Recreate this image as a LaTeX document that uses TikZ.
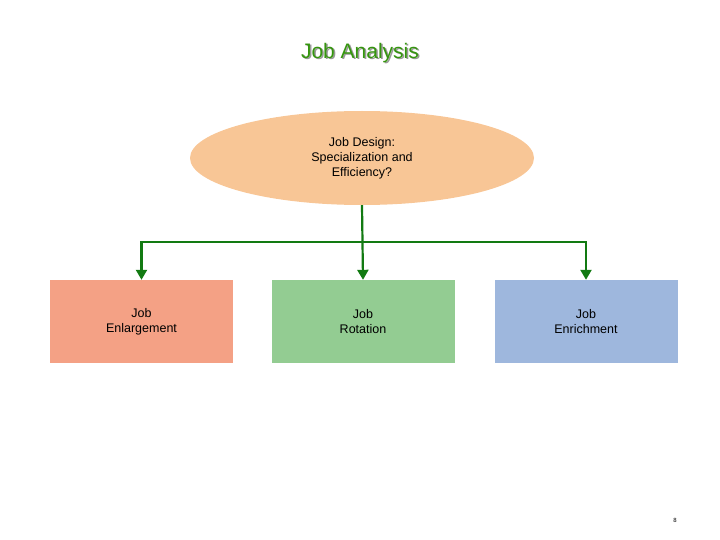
\documentclass[tikz,border=0pt]{standalone}
\usepackage{fontspec}
\setmainfont{Liberation Sans}
\usetikzlibrary{shapes.geometric, arrows.meta}
\definecolor{linkgreen}{RGB}{18,122,18}
\definecolor{designfill}{RGB}{248,198,150}
\definecolor{enlargefill}{RGB}{244,161,133}
\definecolor{rotatefill}{RGB}{147,204,146}
\definecolor{enrichfill}{RGB}{158,183,221}
\tikzset{
link/.style={draw=linkgreen, line width=2.2pt, -{Triangle[width=11pt,length=10pt]}}, % the green connectors
job/.style={rectangle, minimum width=183pt, minimum height=83pt, align=center, font=\fontsize{12.5}{15}\selectfont}, % the three boxes
}
\begin{document}
\begin{tikzpicture}[x=1pt, y=-1pt]
\useasboundingbox (0,0) rectangle (720,540);
% title with its soft shadow
\node[text=black!40, font=\fontsize{21}{25}\selectfont] at (361.5,54.5) {Job Analysis};
\node[text=linkgreen!80!lime, font=\fontsize{21}{25}\selectfont] (title) at (360,53) {Job Analysis};
\node[ellipse, fill=designfill, minimum width=344pt, minimum height=94pt, align=center, font=\fontsize{12.5}{15}\selectfont] (design) at (362,158) {Job Design:\\Specialization and\\Efficiency?};
\node[job, fill=enlargefill] (enlarge) at (141.5,321.5) {Job\\Enlargement};
\node[job, fill=rotatefill] (rotate) at (363,321.5) {Job\\Rotation};
\node[job, fill=enrichfill] (enrich) at (586,321.5) {Job\\Enrichment};
\coordinate (split) at (362,242);
\draw[link] (design.south) -- (rotate.north);
\draw[link] (split) -| (enlarge.north);
\draw[link] (split) -| (enrich.north);
\node[font=\fontsize{6}{7}\selectfont] (page) at (675,520) {8};
\end{tikzpicture}
\end{document}
